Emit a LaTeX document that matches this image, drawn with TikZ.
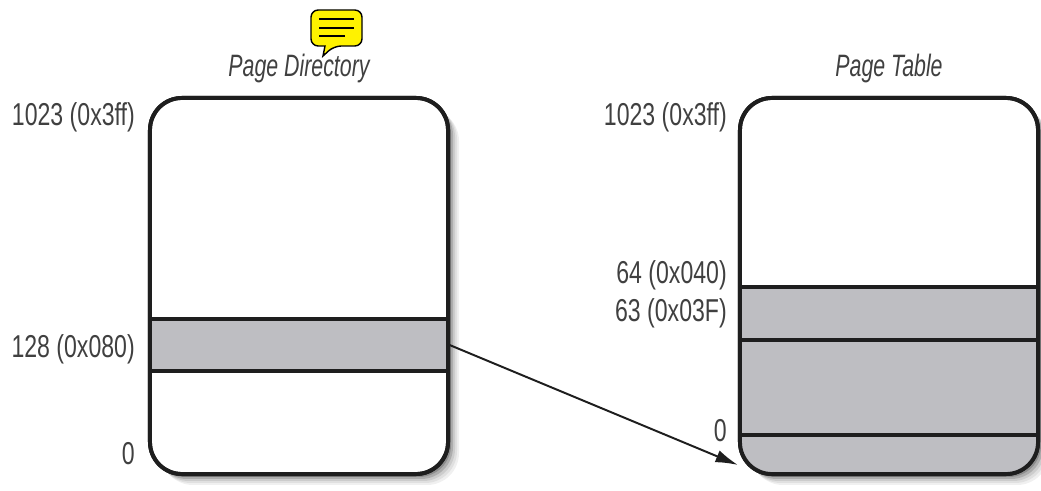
\documentclass[tikz,border=0pt]{standalone}
\usepackage{fontspec}
\setmainfont{Liberation Sans}
\usetikzlibrary{calc,arrows.meta}

\definecolor{bandgray}{RGB}{190,190,194}
\definecolor{edgedark}{RGB}{30,30,30}

\tikzset{
  labeltext/.style={left, xscale=0.73, inner sep=0pt, text=black!75, font=\fontsize{22.5}{24}\selectfont},
  titletext/.style={inner sep=0pt, xscale=0.69, text=black!75, font=\fontsize{22}{24}\selectfont\itshape},
  memorybox/.style={draw=edgedark, line width=2.8pt, minimum width=7.45cm, minimum height=9.4cm, rounded corners=0.8cm},
  bandbox/.style={draw=edgedark, line width=2.2pt, fill=bandgray, minimum width=7.45cm, inner sep=0pt}
}

\begin{document}
\begin{tikzpicture}[x=0.025cm, y=-0.025cm]
\useasboundingbox (0,0) rectangle (1041,491);

\foreach \off/\shade in {11/6, 9/12, 7/20, 5/32, 3/45}{
  \fill[black!\shade, rounded corners=0.8cm] (150+\off,98+\off) rectangle (448+\off,474+\off);
  \fill[black!\shade, rounded corners=0.8cm] (740+\off,98+\off) rectangle (1038+\off,474+\off);
}

\node[memorybox, fill=white] (dirbox) at (299,286) {};
\node[memorybox, fill=white] (tablebox) at (889,286) {};

\node[bandbox, minimum height=1.3cm] (dirband) at (299,345) {};

\fill[bandgray, rounded corners=0.8cm] (740,340) [sharp corners] -- (740,400) [rounded corners=0.8cm] -- (740,474) -- (1038,474) -- (1038,400) [sharp corners] -- (1038,340) -- cycle;
\node[bandbox, minimum height=1.325cm] (tableband) at (889,313.5) {};
\draw[edgedark, line width=2.2pt] (740,435) -- (1038,435);
\node[memorybox] (tableedge) at (889,286) {};
\node[memorybox] (diredge) at (299,286) {};

\node[labeltext] (dirtop) at (135,117) {1023 (0x3ff)};
\node[labeltext] (dirmid) at (135,349) {128 (0x080)};
\node[labeltext] (dirzero) at (135,454) {0};
\node[labeltext] (tabletop) at (727,117) {1023 (0x3ff)};
\node[labeltext] (tablehigh) at (727,275) {64 (0x040)};
\node[labeltext] (tablelow) at (727,313) {63 (0x03F)};
\node[labeltext] (tablezero) at (727,431) {0};

\node[titletext] (dirtitle) at (299,69) {Page Directory};
\node[titletext] (tabletitle) at (889,69) {Page Table};

\coordinate (target) at (738,465);
\draw[-{Latex[length=16pt,width=9pt]}, edgedark, line width=1.4pt] (dirband.east) -- (target);

\draw[fill=yellow, line width=1pt, rounded corners=0.18cm] (311,10) -- (362,10) -- (362,46) -- (334,46) [sharp corners] -- (323,56) -- (325,46) [rounded corners=0.18cm] -- (311,46) -- cycle;
\draw[line width=0.8pt] (319,19) -- (354,19);
\draw[line width=0.8pt] (319,28) -- (354,28);
\draw[line width=0.8pt] (319,36) -- (345,36);

\end{tikzpicture}
\end{document}
